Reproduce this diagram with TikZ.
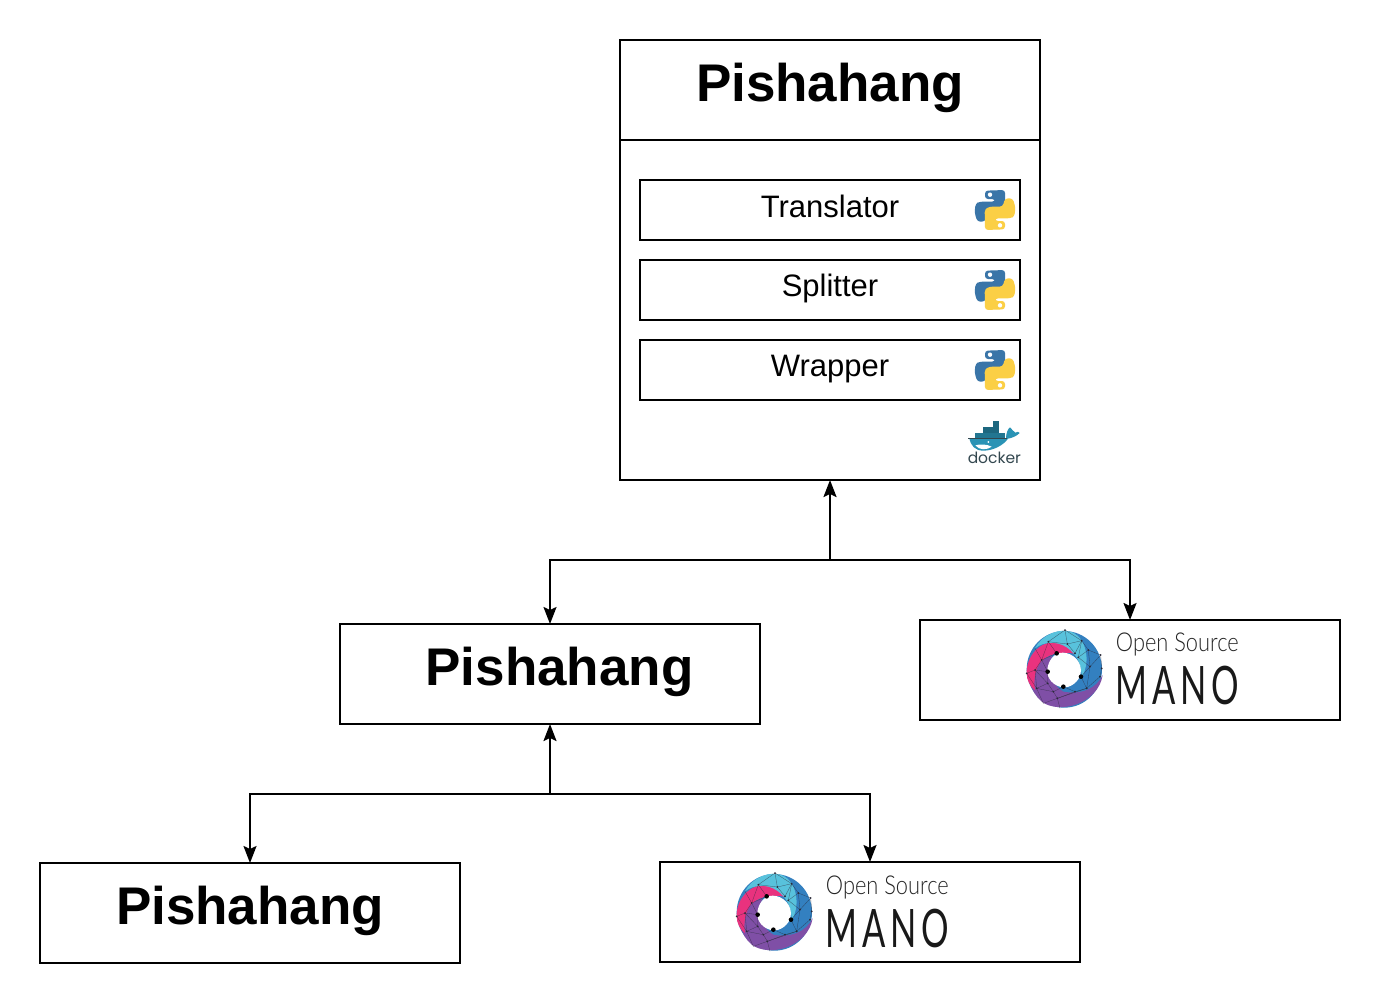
\documentclass[tikz,border=0pt]{standalone}
\usepackage{fontspec}
\setmainfont{Liberation Sans}
\newfontfamily\thinfont{Lato Light}
\newfontfamily\manofont[LetterSpace=14]{Lato}
\newfontfamily\dockerfont{Poppins}
\usetikzlibrary{arrows.meta}
\definecolor{pyblue}{HTML}{3A75A8}
\definecolor{pyyellow}{HTML}{FBCF45}
\definecolor{dkblue}{HTML}{2A93B5}
\definecolor{dkdark}{HTML}{33474F}
\definecolor{mcyan}{HTML}{58C2DC}
\definecolor{mblue}{HTML}{3380C0}
\definecolor{mpink}{HTML}{E9327E}
\definecolor{mpurple}{HTML}{7F4FA6}
\definecolor{mnet}{HTML}{2A2A3A}
\tikzset{
  x=1pt,y=-1pt,
  box/.style={draw=black,line width=2pt,fill=white,inner sep=0pt,outer sep=0pt,minimum width=420pt,minimum height=100pt},
  toolbox/.style={draw=black,line width=2pt,fill=white,inner sep=0pt,outer sep=0pt,minimum width=380pt,minimum height=60pt},
  titletext/.style={font=\fontsize{53}{60}\selectfont\bfseries,inner sep=0pt},
  tooltext/.style={font=\fontsize{31}{36}\selectfont,inner sep=0pt},
  link/.style={line width=2pt,-{Stealth[length=17pt,width=13pt,inset=3pt]}},
  plain link/.style={line width=2pt},
  net/.style={draw=mnet,line width=.3pt,opacity=.7},
}
\newcommand{\pylogo}[2]{%
  \begin{scope}[shift={(#1,#2)},x=.3333pt,y=-.3333pt]
    \fill[pyblue,rounded corners=3pt] (105,32) -- (165,30) -- (166,92) -- (152,100) -- (112,100) -- (105,125) -- (82,125) -- (74,100) -- (76,72) -- (88,65) -- (135,65) -- (135,57) -- (105,57) -- cycle;
    \fill[pyyellow,rounded corners=3pt] (165,148) -- (105,150) -- (104,88) -- (118,80) -- (158,80) -- (165,55) -- (188,55) -- (196,80) -- (194,108) -- (182,115) -- (135,115) -- (135,123) -- (165,123) -- cycle;
    \fill[white] (120,44) circle[radius=2.2pt];
    \fill[white] (150,136) circle[radius=2.2pt];
  \end{scope}}
\newcommand{\dockerlogo}[2]{%
  \begin{scope}[shift={(#1,#2)},x=.3333pt,y=-.3333pt]
    \fill[dkblue!70!black] (128,34) rectangle (146,52);
    \fill[dkblue!70!black] (100,52) rectangle (146,70);
    \fill[dkblue!80!black] (74,70) rectangle (164,86);
    \fill[dkblue] (58,84) -- (168,84) .. controls (168,70) and (174,56) .. (180,52) .. controls (186,58) and (190,64) .. (196,68) .. controls (202,63) and (206,66) .. (209,69) .. controls (198,80) and (184,84) .. (174,86) .. controls (160,106) and (130,122) .. (100,122) .. controls (76,122) and (62,108) .. (58,84) -- cycle;
    \fill[white] (76,106) .. controls (90,102) and (110,102) .. (125,110) .. controls (112,120) and (88,122) .. (76,106) -- cycle;
    \fill[white] (115,96) circle[radius=1pt];
    \draw[dkdark,line width=.8pt] (55,86) -- (172,86);
    \node[text=dkdark,inner sep=0pt,font=\dockerfont\fontsize{15.5}{18}\selectfont] (dockerword) at (133,144) {docker};
  \end{scope}}
\newcommand{\manologo}[2]{%
  \begin{scope}[shift={(#1,#2)},x=.3333pt,y=-.3333pt]
    \fill[mblue] (163,148) ellipse[x radius=113,y radius=115];
    \fill[mpurple] (70,130) .. controls (45,160) and (60,215) .. (95,245) .. controls (150,285) and (265,250) .. (278,165) .. controls (260,205) and (215,225) .. (160,215) .. controls (125,195) and (110,150) .. (128,105) -- cycle;
    \fill[mpink] (50,160) .. controls (48,110) and (90,60) .. (140,68) .. controls (165,72) and (190,85) .. (197,102) .. controls (170,95) and (125,95) .. (95,122) .. controls (75,145) and (70,180) .. (75,210) .. controls (60,200) and (50,180) .. (50,160) -- cycle;
    \fill[mcyan] (75,85) .. controls (95,45) and (150,20) .. (190,38) .. controls (225,55) and (245,120) .. (215,172) .. controls (215,140) and (205,105) .. (170,82) .. controls (140,62) and (100,65) .. (75,85) -- cycle;
    \fill[white] (158,98) .. controls (190,98) and (218,128) .. (212,160) .. controls (208,185) and (180,205) .. (158,202) .. controls (130,198) and (110,175) .. (112,150) .. controls (114,122) and (132,98) .. (158,98) -- cycle;
    \draw[net] (50,160) -- (75,150) -- (95,120) -- (115,65) -- (165,30) -- (215,62) -- (235,90) -- (272,105) -- (275,145) -- (270,170) -- (230,205) -- (195,215) -- (142,235) -- (150,265);
    \draw[net] (75,85) -- (95,120) -- (140,100) -- (115,65) -- (172,72) -- (195,100) -- (215,62);
    \draw[net] (165,30) -- (172,72) -- (215,62) -- (205,112) -- (235,90) -- (240,140) -- (272,105);
    \draw[net] (205,112) -- (240,140) -- (213,170) -- (230,205) -- (240,140);
    \draw[net] (50,160) -- (80,205) -- (75,150) -- (113,155) -- (95,120);
    \draw[net] (80,205) -- (113,190) -- (75,150);
    \draw[net] (113,155) -- (113,190) -- (130,215) -- (160,200) -- (195,215);
    \draw[net] (80,205) -- (130,215) -- (142,235) -- (100,250) -- (80,205);
    \draw[net] (142,235) -- (230,205);
    \foreach \dotx/\doty in {115/65,165/30,215/62,235/90,272/105,275/145,270/170,230/205,195/215,142/235,95/120,75/150,50/160,80/205,113/190,130/215,172/72,205/112,240/140,195/100}
      \fill[mnet] (\dotx,\doty) circle[radius=1pt];
    \foreach \dotx/\doty in {140/100,113/155,160/200,213/170}
      \fill[black] (\dotx,\doty) circle[radius=2.3pt];
    \node[inner sep=0pt,text=black!85,font=\thinfont\fontsize{26}{30}\selectfont] (opensource) at (502,72) {\scalebox{.84}[1]{Open Source}};
    \node[inner sep=0pt,text=black!90,font=\manofont\fontsize{53}{60}\selectfont] (manoword) at (502,197) {\scalebox{.65}[1]{MANO}};
  \end{scope}}
\begin{document}
\begin{tikzpicture}
\useasboundingbox (0,0) rectangle (1380,1005);
\fill[white] (0,0) rectangle (1380,1005);
\node[box,minimum height=440pt] (main) at (830,260) {};
\coordinate (dividerL) at (620,140);
\coordinate (dividerR) at (1040,140);
\draw[plain link] (dividerL) -- (dividerR);
\node[titletext] (maintitle) at (830,88) {Pishahang};
\node[toolbox] (translatorbox) at (830,210) {};
\node[toolbox] (splitterbox) at (830,290) {};
\node[toolbox] (wrapperbox) at (830,370) {};
\node[tooltext] (translator) at (830,206) {Translator};
\node[tooltext] (splitter) at (830,288) {Splitter};
\node[tooltext] (wrapper) at (830,369) {Wrapper};
\pylogo{950}{180}
\pylogo{950}{260}
\pylogo{950}{340}
\dockerlogo{950}{410}
\node[box] (mid) at (550,674) {};
\node[titletext] (midtitle) at (559.5,672) {Pishahang};
\node[box] (osmtop) at (1130,670) {};
\manologo{1010}{620}
\node[box] (low) at (250,913) {};
\node[titletext] (lowtitle) at (250,911) {Pishahang};
\node[box] (osmlow) at (870,912) {};
\manologo{720}{863}
\coordinate (joinA) at (830,560);
\coordinate (joinB) at (550,794);
\draw[link] (joinA) -- (main.south);
\draw[link] (joinA) -| (mid.north);
\draw[link] (joinA) -| (osmtop.north);
\draw[link] (joinB) -- (mid.south);
\draw[link] (joinB) -| (low.north);
\draw[link] (joinB) -| (osmlow.north);
\end{tikzpicture}
\end{document}
